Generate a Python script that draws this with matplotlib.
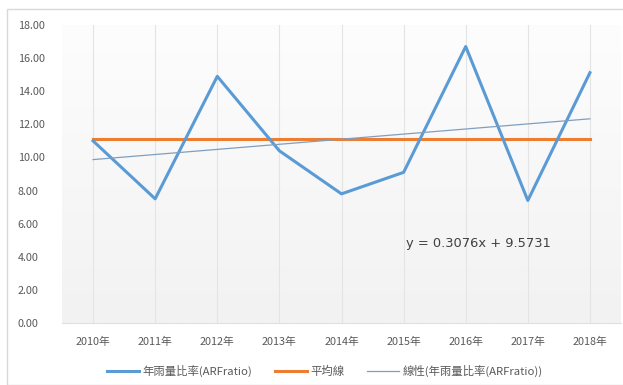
import matplotlib
matplotlib.use("Agg")
import matplotlib.pyplot as plt
import numpy as np
from matplotlib.patches import Rectangle

plt.rcParams["font.family"] = ["Noto Sans CJK TC", "DejaVu Sans"]

years = ["2010年", "2011年", "2012年", "2013年", "2014年", "2015年", "2016年", "2017年", "2018年"]
arf_ratio = [11.0, 7.5, 14.9, 10.4, 7.8, 9.1, 16.7, 7.4, 15.12]
trend_label = "y = 0.3076x + 9.5731"

x = np.arange(len(years))
mean_val = np.mean(arf_ratio)
slope, intercept = np.polyfit(x + 1, arf_ratio, 1)
trend = slope * (x + 1) + intercept

W, H = 623, 385
fig = plt.figure(figsize=(W / 100, H / 100), dpi=100)
fig.patch.set_facecolor("white")

# chart area border
fig.patches.append(Rectangle((7 / W, 0), 1, (H - 9) / H, transform=fig.transFigure,
                             fill=False, edgecolor="#d9d9d9", linewidth=1))

ax = fig.add_axes([62 / W, (H - 323) / H, (621 - 62) / W, (323 - 25) / H])

# soft gradient background of the plot area
grad = np.linspace(1.0, 0.0, 100).reshape(-1, 1)
ax.imshow(grad, cmap=matplotlib.colors.LinearSegmentedColormap.from_list("g", ["#f2f2f2", "#fdfdfd"]),
          extent=[0, 1, 0, 1], transform=ax.transAxes, aspect="auto", zorder=0)

for xi in x:
    ax.axvline(xi, color="#e4e4e4", linewidth=0.8, zorder=1)

ax.plot(x, arf_ratio, color="#5b9bd5", linewidth=2.2, label="年雨量比率(ARFratio)", zorder=4)
ax.plot(x, [mean_val] * len(x), color="#ed7d31", linewidth=2.2, label="平均線", zorder=3)
ax.plot(x, trend, color="#7f9fc0", linewidth=0.9, label="線性(年雨量比率(ARFratio))", zorder=5)

ax.text(6.2, 4.83, trend_label, fontsize=9.4, color="#404040", ha="center", va="center",
        family=["DejaVu Sans"])

ax.set_xlim(-0.5, len(x) - 0.5)
ax.set_ylim(0, 18)
ax.set_yticks(np.arange(0, 19, 2))
ax.set_yticklabels([f"{v:.2f}" for v in np.arange(0, 19, 2)])
ax.set_xticks(x)
ax.set_xticklabels(years)
ax.tick_params(axis="both", length=0, labelsize=7.8, labelcolor="#595959")
ax.tick_params(axis="y", pad=32)
ax.tick_params(axis="x", pad=10)
for lab in ax.get_yticklabels():
    lab.set_horizontalalignment("left")

for side in ["top", "right", "left"]:
    ax.spines[side].set_visible(False)
ax.spines["bottom"].set_color("#e0e0e0")

leg = fig.legend(loc="center", bbox_to_anchor=(325 / W, (H - 371) / H), ncol=3, frameon=False,
                 fontsize=8.2, handlelength=2.8, columnspacing=2.0, handletextpad=0.3)
for t in leg.get_texts():
    t.set_color("#595959")

fig.savefig("out.png", dpi=100)
